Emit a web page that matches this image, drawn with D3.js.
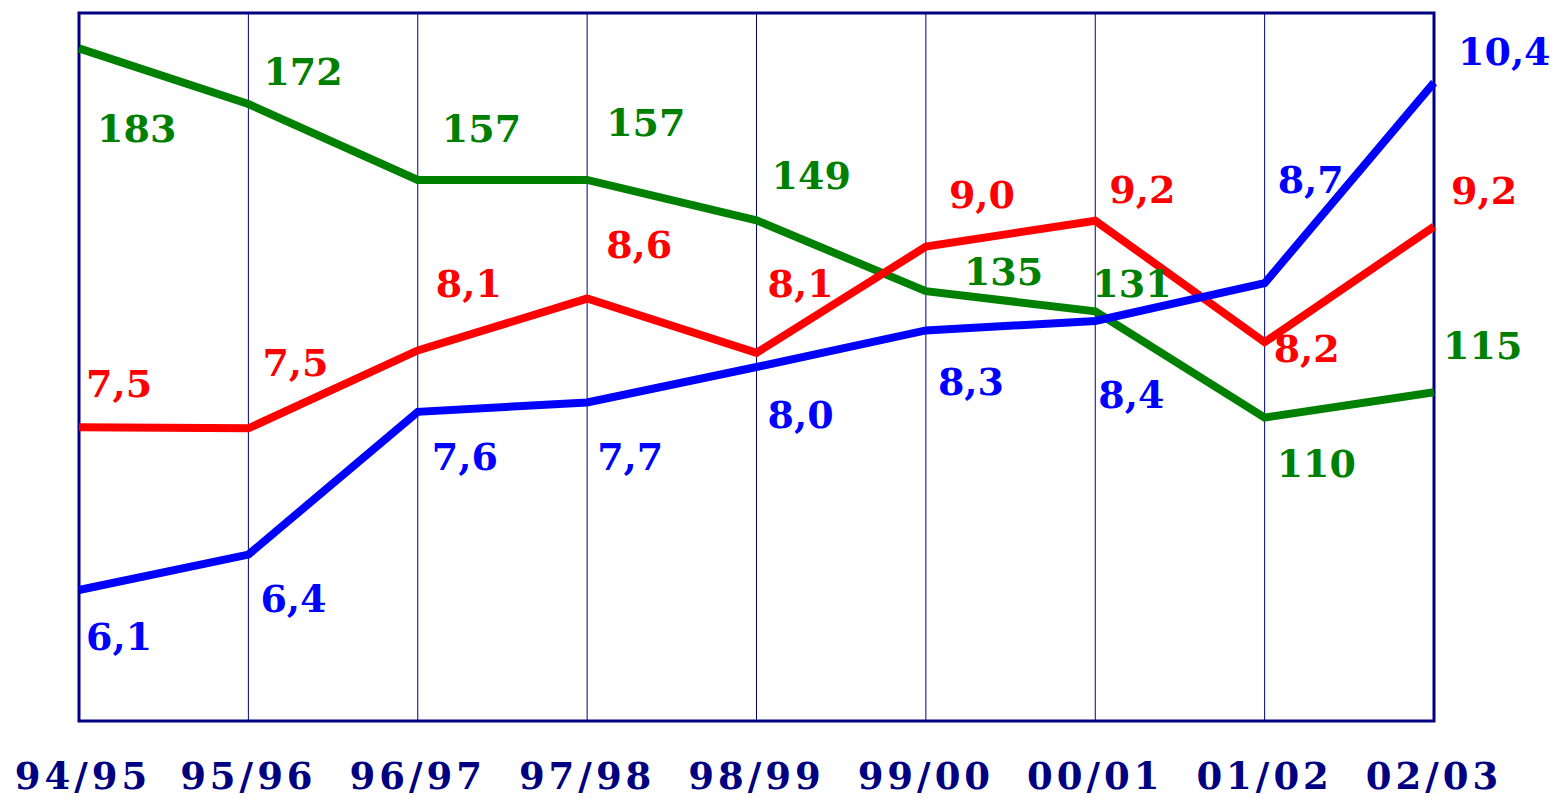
<!DOCTYPE html>
<html>
<head>
<meta charset="utf-8">
<script src="https://cdn.jsdelivr.net/npm/d3@7"></script>
<style>
    body { margin: 0; background: #fff; }
    text { font-family: 'DejaVu Serif', serif; font-weight: bold; }
</style>
</head>
<body>
<svg width="1556" height="799"></svg>
<script>
// seasons
let seasons = ['94/95', '95/96', '96/97', '97/98', '98/99', '99/00', '00/01', '01/02', '02/03'];

// series values (green uses its own scale, red and blue share one)
let greenValues = [183, 172, 157, 157, 149, 135, 131, 110, 115];
let redValues = [7.49, 7.48, 8.14, 8.58, 8.12, 9.02, 9.24, 8.21, 9.19];
let blueValues = [6.11, 6.41, 7.62, 7.70, 8.00, 8.31, 8.39, 8.71, 10.41];

// label offsets from each point (left edge, baseline)
let greenOffsets = [[18, 94], [15, -19], [24, -38], [19, -44], [15, -31], [38, -6], [-3, -14], [12, 59], [9, -33]];
let redOffsets = [[7, -30], [14, -52], [18, -53], [19, -41], [11, -56], [23, -39], [14, -18], [9, 20], [17, -23]];
let blueOffsets = [[7, 60], [12, 57], [14, 58], [10, 68], [11, 61], [12, 65], [3, 87], [13, -90], [24, -18]];

document.addEventListener('DOMContentLoaded', function() {
    let svg = d3.select('svg');

    let left = 79, right = 1434, top = 13, bottom = 721;
    let navy = '#000080';

    let x = d3.scalePoint()
        .domain(seasons)
        .range([left, right]);

    let yGreen = d3.scaleLinear().domain([50, 190]).range([bottom, top]);
    let yRate = d3.scaleLinear().domain([5, 11]).range([bottom, top]);

    let fmt = d => d3.format('.1f')(d).replace('.', ',');

    // vertical grid lines
    svg.append('g').attr('class', 'grid')
        .selectAll('line')
        .data(seasons.slice(1, -1))
        .join('line')
        .attr('x1', d => x(d))
        .attr('x2', d => x(d))
        .attr('y1', top)
        .attr('y2', bottom)
        .attr('stroke', navy)
        .attr('stroke-width', 1);

    // frame
    svg.append('rect')
        .attr('x', left)
        .attr('y', top)
        .attr('width', right - left)
        .attr('height', bottom - top)
        .attr('fill', 'none')
        .attr('stroke', navy)
        .attr('stroke-width', 3);

    let series = [
        { values: greenValues, y: yGreen, color: '#008000', offsets: greenOffsets, label: d => d3.format('d')(d) },
        { values: redValues, y: yRate, color: '#ff0000', offsets: redOffsets, label: fmt },
        { values: blueValues, y: yRate, color: '#0000ff', offsets: blueOffsets, label: fmt }
    ];

    series.forEach(function(s) {
        let line = d3.line()
            .x((d, i) => x(seasons[i]))
            .y(d => s.y(d));

        svg.append('path')
            .datum(s.values)
            .attr('d', line)
            .attr('fill', 'none')
            .attr('stroke', s.color)
            .attr('stroke-width', 8)
            .attr('stroke-linejoin', 'miter');
    });

    series.forEach(function(s) {
        svg.append('g')
            .selectAll('text')
            .data(s.values)
            .join('text')
            .attr('x', (d, i) => x(seasons[i]) + s.offsets[i][0])
            .attr('y', (d, i) => s.y(d) + s.offsets[i][1])
            .attr('fill', s.color)
            .style('font-size', '38px')
            .text(s.label);
    });

    // x axis labels
    svg.append('g').attr('class', 'x-labels')
        .selectAll('text')
        .data(seasons)
        .join('text')
        .attr('x', (d, i) => x(d) + (i === 0 ? 4 : 0))
        .attr('y', 789)
        .attr('text-anchor', 'middle')
        .attr('fill', navy)
        .style('font-size', '37px')
        .style('letter-spacing', '4px')
        .text(d => d);
});
</script>
</body>
</html>
